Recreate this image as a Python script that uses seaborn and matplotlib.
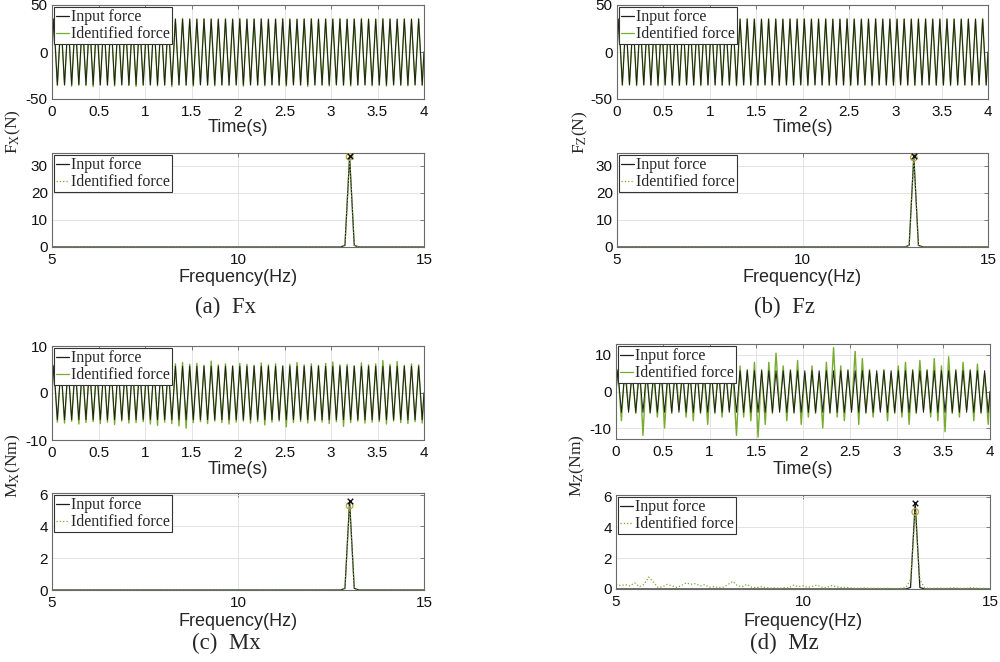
import numpy as np
import pandas as pd
import seaborn as sns
import matplotlib
matplotlib.use("Agg")
import matplotlib.pyplot as plt
from matplotlib.lines import Line2D

# ---------------- data ----------------
signal_freq_hz = 13.0
n_cycles = 52
time_ticks = [0, 0.5, 1, 1.5, 2, 2.5, 3, 3.5, 4]
time_tick_labels = ["0", "0.5", "1", "1.5", "2", "2.5", "3", "3.5", "4"]
freq_ticks = [5, 10, 15]

# input force amplitudes (clean sinusoid)
fx_input_amp = 35.0
fz_input_amp = 35.0
mx_input_amp = 5.7
mz_input_amp = 5.7

# identified force: peak / trough value of each cycle
fx_ident_peaks = [35.4, 34.8, 35.6, 35.1, 34.7, 35.5, 35.2, 34.9, 35.6, 35.0, 34.8, 35.3, 35.7, 34.9,
                  35.1, 35.4, 34.6, 35.2, 35.5, 35.0, 34.9, 35.6, 35.1, 34.8, 35.3, 35.0, 35.7, 34.9,
                  35.2, 35.4, 34.8, 35.1, 35.6, 35.0, 34.7, 35.3, 35.5, 34.9, 35.2, 35.0, 35.6, 34.8,
                  35.1, 35.4, 35.0, 34.9, 35.5, 35.2, 34.8, 35.3, 35.0, 35.4]
fx_ident_troughs = [-35.6, -35.1, -36.4, -35.0, -35.8, -36.9, -35.2, -35.5, -36.2, -35.0, -35.7, -36.6,
                    -35.3, -35.1, -36.0, -35.4, -36.8, -35.2, -35.6, -36.3, -35.0, -35.5, -36.1, -35.3,
                    -35.8, -35.1, -36.5, -35.2, -35.4, -36.0, -35.1, -35.7, -36.3, -35.0, -35.5, -36.7,
                    -35.2, -35.4, -36.1, -35.0, -35.6, -36.2, -35.3, -35.1, -35.9, -35.4, -36.4, -35.2,
                    -35.5, -36.0, -35.1, -35.6]
fz_ident_peaks = [35.2, 34.9, 35.4, 35.0, 34.8, 35.3, 35.1, 34.9, 35.5, 35.0, 34.8, 35.2, 35.4, 35.0,
                  35.1, 35.3, 34.8, 35.1, 35.4, 35.0, 34.9, 35.3, 35.1, 34.9, 35.2, 35.0, 35.5, 34.9,
                  35.1, 35.3, 34.9, 35.0, 35.4, 35.0, 34.8, 35.2, 35.4, 34.9, 35.1, 35.0, 35.3, 34.9,
                  35.1, 35.2, 35.0, 34.9, 35.3, 35.1, 34.9, 35.2, 35.0, 35.3]
fz_ident_troughs = [-35.3, -35.0, -35.8, -35.1, -35.4, -36.0, -35.2, -35.3, -35.7, -35.0, -35.4, -35.9,
                    -35.2, -35.1, -35.6, -35.3, -36.1, -35.1, -35.4, -35.8, -35.0, -35.3, -35.6, -35.2,
                    -35.5, -35.1, -35.9, -35.1, -35.3, -35.6, -35.0, -35.4, -35.8, -35.0, -35.3, -36.0,
                    -35.1, -35.3, -35.6, -35.0, -35.4, -35.7, -35.2, -35.1, -35.5, -35.3, -35.8, -35.1,
                    -35.3, -35.6, -35.0, -35.4]
mx_ident_peaks = [5.9, 6.0, 5.6, 6.2, 5.8, 6.1, 5.7, 6.3, 5.9, 6.0, 5.6, 6.2, 5.8, 6.4, 5.9, 6.1, 5.7,
                  6.2, 6.5, 6.1, 6.3, 5.9, 6.8, 6.0, 6.2, 5.8, 6.3, 6.1, 5.9, 6.4, 6.0, 6.2, 5.8, 6.1,
                  6.5, 6.0, 6.2, 5.9, 6.3, 6.6, 6.0, 6.1, 5.8, 6.4, 6.0, 6.2, 6.9, 6.1, 6.7, 5.9, 6.2, 6.0]
mx_ident_troughs = [-6.2, -6.4, -6.0, -6.6, -6.3, -6.1, -6.5, -6.2, -6.7, -6.0, -6.4, -6.3, -6.1, -6.6,
                    -6.9, -6.2, -6.5, -7.0, -7.5, -6.3, -6.1, -6.5, -6.0, -6.3, -6.6, -6.2, -6.0, -6.4,
                    -6.1, -6.8, -6.2, -6.0, -7.2, -6.3, -6.1, -6.4, -6.0, -6.2, -6.5, -6.1, -7.1, -6.3,
                    -6.0, -6.4, -6.2, -6.1, -6.6, -6.0, -6.3, -6.5, -6.1, -6.4]
mz_ident_peaks = [6.0, 7.5, 5.0, 8.0, 6.5, 4.5, 7.0, 6.0, 8.5, 5.5, 6.5, 7.5, 5.0, 6.0, 8.0, 6.5, 5.0,
                  7.0, 6.0, 8.0, 6.0, 8.0, 10.5, 7.0, 6.0, 8.5, 5.0, 7.0, 5.0, 8.0, 12.0, 7.0, 6.0, 11.0,
                  9.0, 6.0, 5.0, 6.0, 5.0, 7.0, 8.0, 6.0, 8.5, 6.0, 9.0, 7.0, 9.5, 6.0, 8.0, 6.0, 7.5, 5.0]
mz_ident_troughs = [-8.0, -5.0, -6.0, -12.0, -6.0, -7.0, -10.0, -6.0, -5.0, -7.0, -8.0, -6.0, -9.0, -6.0,
                    -7.0, -5.0, -12.0, -7.0, -8.0, -12.5, -9.0, -6.0, -5.0, -8.0, -6.0, -9.0, -7.0, -6.0,
                    -10.0, -6.0, -7.0, -8.0, -5.0, -9.0, -6.0, -7.0, -5.0, -8.0, -6.0, -7.0, -9.0, -6.0,
                    -5.0, -7.0, -8.0, -11.0, -6.0, -7.0, -5.0, -8.0, -6.0, -9.0]

# amplitude spectra, 5-15 Hz (0.125 Hz bins); sparse bins for the clean spectra
spec_freq = np.round(np.arange(5.0, 15.0 + 1e-9, 0.125), 3)
fx_in_spec = {12.875: 0.6, 13.0: 33.6, 13.125: 0.6}
fx_id_spec = {12.875: 0.6, 13.0: 33.4, 13.125: 0.6}
fz_in_spec = {12.875: 0.6, 13.0: 33.7, 13.125: 0.6}
fz_id_spec = {12.875: 0.6, 13.0: 33.1, 13.125: 0.6}
mx_in_spec = {12.875: 0.1, 13.0: 5.6, 13.125: 0.1}
mx_id_spec = {12.875: 0.1, 13.0: 5.3, 13.125: 0.1}
mz_in_spec = {12.875: 0.1, 13.0: 5.6, 13.125: 0.1}
mz_id_spec_values = [0.30, 0.22, 0.28, 0.20, 0.40, 0.15, 0.30, 0.78, 0.45, 0.10, 0.15, 0.30, 0.20, 0.10,
                     0.22, 0.40, 0.30, 0.35, 0.20, 0.28, 0.12, 0.15, 0.10, 0.12, 0.30, 0.50, 0.20, 0.15,
                     0.30, 0.12, 0.08, 0.15, 0.10, 0.06, 0.08, 0.05, 0.10, 0.08, 0.25, 0.15, 0.20, 0.10,
                     0.18, 0.25, 0.12, 0.08, 0.22, 0.15, 0.10, 0.12, 0.08, 0.06, 0.05, 0.06, 0.05, 0.04,
                     0.05, 0.04, 0.05, 0.04, 0.03, 0.05, 0.10, 0.60, 5.00, 0.60, 0.08, 0.04, 0.05, 0.06,
                     0.04, 0.05, 0.08, 0.06, 0.04, 0.05, 0.10, 0.06, 0.04, 0.05, 0.03]

# ---------------- helpers ----------------
def wave(peaks, troughs):
    t = [0.0]
    v = [0.0]
    for k in range(len(peaks)):
        t += [(k + 0.25) / signal_freq_hz, (k + 0.75) / signal_freq_hz]
        v += [peaks[k], troughs[k]]
    t.append(len(peaks) / signal_freq_hz)
    v.append(0.0)
    return pd.DataFrame({"t": t, "v": v})


def spectrum(sparse=None, values=None):
    if values is not None:
        amp = np.array(values, dtype=float)
    else:
        amp = np.array([sparse.get(float(f), 0.0) for f in spec_freq])
    return pd.DataFrame({"f": spec_freq, "a": amp})


sns.set_theme(style="white")
plt.rcParams["font.family"] = ["Liberation Sans", "DejaVu Sans"]
plt.rcParams["mathtext.fontset"] = "stix"
plt.rcParams["axes.unicode_minus"] = False

INPUT_C = "#1e1e1e"
IDENT_C = "#77AC30"
SERIF = ["Liberation Serif", "DejaVu Serif"]

W, H = 1000, 662
fig = plt.figure(figsize=(W / 100, H / 100), dpi=100)


def add_ax(l, r, t, b):
    return fig.add_axes([l / W, 1 - b / H, (r - l) / W, (b - t) / H])


def style(ax):
    ax.grid(True, color="#e4e4e4", lw=0.7)
    ax.set_axisbelow(True)
    for s in ax.spines.values():
        s.set_color("#6a6a6a")
        s.set_linewidth(0.8)
    ax.tick_params(which="both", direction="in", top=True, right=True, length=3, width=0.6,
                   color="#6a6a6a", labelsize=11, labelcolor="#111111")
    ax.tick_params(axis="x", pad=4)
    ax.tick_params(axis="y", pad=3)


def legend(ax, ident_ls):
    handles = [Line2D([], [], color=INPUT_C, lw=0.9, ls="-"),
               Line2D([], [], color=IDENT_C, lw=0.9, ls=ident_ls)]
    lg = ax.legend(handles, ["Input force", "Identified force"], loc="upper left",
                   prop={"family": SERIF, "size": 11.5}, frameon=True, fancybox=False,
                   framealpha=1, edgecolor="#333333", handlelength=0.8, handletextpad=0.15,
                   labelspacing=0.05, borderpad=0.12, borderaxespad=0.15)
    lg.get_frame().set_linewidth(0.8)
    lg.set_zorder(10)


panels = [
    dict(name="(a)  Fx", ylab=r"F$_{\mathrm{X}}$(N)", x=(52, 424), tt=(5, 99), ft=(153, 247),
         ylim_t=(-50, 50), yt_t=[-50, 0, 50], ylim_f=(0, 34.8), yt_f=[0, 10, 20, 30],
         pk=fx_ident_peaks, tr=fx_ident_troughs, amp=fx_input_amp, si=fx_in_spec, sd=fx_id_spec,
         vals=None, cap=(226, 307), yl=(13, 132), xl_t=128, xl_f=278),
    dict(name="(b)  Fz", ylab=r"F$_{\mathrm{Z}}$(N)", x=(617, 988), tt=(5, 99), ft=(153, 247),
         ylim_t=(-50, 50), yt_t=[-50, 0, 50], ylim_f=(0, 34.8), yt_f=[0, 10, 20, 30],
         pk=fz_ident_peaks, tr=fz_ident_troughs, amp=fz_input_amp, si=fz_in_spec, sd=fz_id_spec,
         vals=None, cap=(784, 307), yl=(580, 132), xl_t=128, xl_f=278),
    dict(name="(c)  Mx", ylab=r"M$_{\mathrm{X}}$(Nm)", x=(52, 424), tt=(346, 440), ft=(493, 590),
         ylim_t=(-10, 10), yt_t=[-10, 0, 10], ylim_f=(0, 6.1), yt_f=[0, 2, 4, 6],
         pk=mx_ident_peaks, tr=mx_ident_troughs, amp=mx_input_amp, si=mx_in_spec, sd=mx_id_spec,
         vals=None, cap=(226, 643), yl=(13, 466), xl_t=470, xl_f=621),
    dict(name="(d)  Mz", ylab=r"M$_{\mathrm{Z}}$(Nm)", x=(616, 990), tt=(344, 439), ft=(495, 589),
         ylim_t=(-13, 13), yt_t=[-10, 0, 10], ylim_f=(0, 6.1), yt_f=[0, 2, 4, 6],
         pk=mz_ident_peaks, tr=mz_ident_troughs, amp=mz_input_amp, si=mz_in_spec, sd=None,
         vals=mz_id_spec_values, cap=(784, 643), yl=(577, 466), xl_t=470, xl_f=621),
]

for p in panels:
    l, r = p["x"]
    # ---- time domain ----
    ax = add_ax(l, r, *p["tt"])
    style(ax)
    inp = wave([p["amp"]] * n_cycles, [-p["amp"]] * n_cycles)
    idf = wave(p["pk"], p["tr"])
    sns.lineplot(data=idf, x="t", y="v", ax=ax, color=IDENT_C, lw=1.0, estimator=None, sort=False)
    sns.lineplot(data=inp, x="t", y="v", ax=ax, color=INPUT_C, lw=0.7, estimator=None, sort=False)
    ax.set_xlim(0, 4)
    ax.set_ylim(*p["ylim_t"])
    ax.set_xticks(time_ticks)
    ax.set_xticklabels(time_tick_labels)
    ax.set_yticks(p["yt_t"])
    ax.set_xlabel("")
    ax.set_ylabel("")
    legend(ax, "-")

    # ---- frequency domain ----
    ax2 = add_ax(l, r, *p["ft"])
    style(ax2)
    si = spectrum(sparse=p["si"])
    sd = spectrum(values=p["vals"]) if p["vals"] is not None else spectrum(sparse=p["sd"])
    sns.lineplot(data=si, x="f", y="a", ax=ax2, color=INPUT_C, lw=0.9, estimator=None, sort=False)
    sns.lineplot(data=sd, x="f", y="a", ax=ax2, color=IDENT_C, lw=0.9, ls=":", estimator=None, sort=False)
    # peak markers
    pi = si.loc[si["a"].idxmax()]
    pdk = sd.loc[sd["a"].idxmax()]
    sns.scatterplot(x=[pdk["f"]], y=[pdk["a"]], ax=ax2, marker="o", s=22, facecolor="none",
                    edgecolor="#b5a642", linewidth=0.9, zorder=5)
    sns.scatterplot(x=[pi["f"]], y=[pi["a"]], ax=ax2, marker="x", s=16, color="#111111",
                    linewidth=1.0, zorder=6)
    ax2.set_xlim(5, 15)
    ax2.set_ylim(*p["ylim_f"])
    ax2.set_xticks(freq_ticks)
    ax2.set_yticks(p["yt_f"])
    ax2.set_xlabel("")
    ax2.set_ylabel("")
    legend(ax2, ":")

    cx = (l + r) / 2
    fig.text(cx / W, 1 - p["xl_t"] / H, "Time(s)", ha="center", va="center", fontsize=13)
    fig.text(cx / W, 1 - p["xl_f"] / H, "Frequency(Hz)", ha="center", va="center", fontsize=13)
    fig.text(p["cap"][0] / W, 1 - p["cap"][1] / H, p["name"], ha="center", va="center",
             fontsize=16.5, family=SERIF)
    fig.text(p["yl"][0] / W, 1 - p["yl"][1] / H, p["ylab"], ha="center", va="center",
             rotation=90, fontsize=12.5, family=SERIF)

fig.savefig("out.png", dpi=100)
